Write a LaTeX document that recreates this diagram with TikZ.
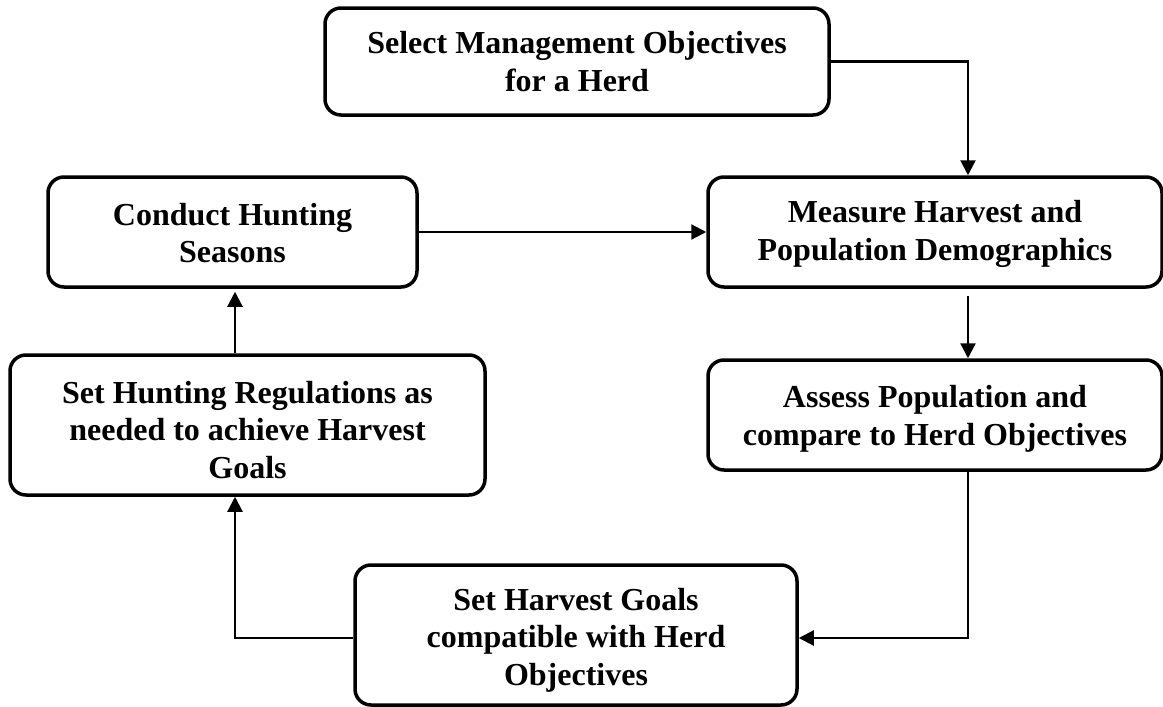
\documentclass[tikz,border=0pt]{standalone}
\usepackage{fontspec}
\setmainfont{Liberation Serif}
\usetikzlibrary{arrows.meta}
\begin{document}
\begin{tikzpicture}[x=1pt,y=-1pt,
  box/.style={draw, line width=3.5pt, rounded corners=16pt, inner sep=0pt},
  tx/.style={align=center, font=\bfseries\fontsize{32}{37.5}\selectfont, inner sep=0pt},
  conn/.style={line width=2.2pt, -{Triangle[width=15pt,length=15pt]}}]
\useasboundingbox (0,0) rectangle (1163,707);
\node[box, minimum width=504pt, minimum height=107pt] (sel) at (577,61.5) {};
\node[tx] (selT) at (sel.center) {Select Management Objectives\\for a Herd};
\node[box, minimum width=369pt, minimum height=110pt] (conduct) at (232.5,232) {};
\node[tx] (conductT) at ([yshift=-1pt]conduct.center) {Conduct Hunting\\Seasons};
\node[box, minimum width=454pt, minimum height=110pt] (measure) at (935,232) {};
\node[tx] (measureT) at ([yshift=-2pt]measure.center) {Measure Harvest and\\Population Demographics};
\node[box, minimum width=454pt, minimum height=110pt] (assess) at (935,415) {};
\node[tx] (assessT) at ([yshift=-4pt]assess.center) {Assess Population and\\compare to Herd Objectives};
\node[box, minimum width=475pt, minimum height=140pt] (hunt) at (247.5,425) {};
\node[tx] (huntT) at ([yshift=-5pt]hunt.center) {Set Hunting Regulations as\\needed to achieve Harvest\\Goals};
\node[box, minimum width=442pt, minimum height=140pt] (harvest) at (576,635) {};
\node[tx] (harvestT) at ([yshift=-5pt]harvest.center) {Set Harvest Goals\\compatible with Herd\\Objectives};
\coordinate (colR) at (968,0);
\coordinate (colL) at (235,0);
\draw[conn] (sel.east) -- (sel.east -| colR) -- (measure.north -| colR);
\draw[conn] (conduct.east) -- (measure.west);
\draw[conn, shorten <=7pt] (measure.south -| colR) -- (assess.north -| colR);
\draw[conn] (assess.south -| colR) -- ([yshift=-3pt]colR |- harvest.east) -- ([yshift=-3pt]harvest.east);
\draw[conn] ([yshift=-3pt]harvest.west) -- ([yshift=-3pt]colL |- harvest.west) -- (colL |- hunt.south);
\draw[conn, shorten >=3pt] (colL |- hunt.north) -- (colL |- conduct.south);
\end{tikzpicture}
\end{document}
